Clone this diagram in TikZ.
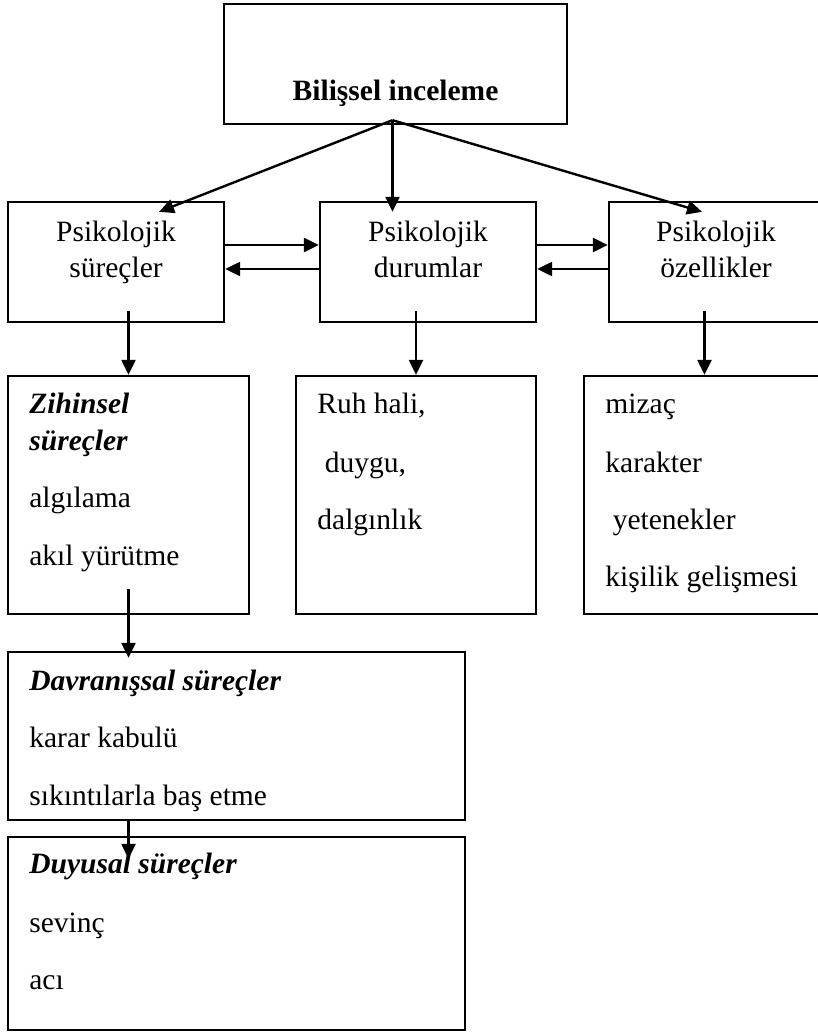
\documentclass[tikz,border=0pt]{standalone}
\usepackage{fontspec}
\setmainfont{Liberation Serif}
\usetikzlibrary{arrows.meta,calc}
\begin{document}
\begin{tikzpicture}[x=0.5pt,y=-0.5pt,
	box/.style={draw, line width=1.2pt, inner sep=0pt},
	arr/.style={line width=1.2pt, -{Triangle[length=7.5pt,width=7pt]}},
	txt/.style={inner sep=0pt, font=\fontsize{14.75}{17}\selectfont},
	hd/.style={txt, font=\fontsize{14.75}{17}\selectfont\bfseries\itshape}]
	\useasboundingbox (0,0) rectangle (818,1032);
	\fill[white] (0,0) rectangle (818,1032);
	
	\node[box, minimum width=171.5pt, minimum height=60pt] (top) at (395.5,64) {};
	\node[box, minimum width=108pt, minimum height=60pt] (ps) at (116,262) {};
	\node[box, minimum width=108pt, minimum height=60pt] (pd) at (428,262) {};
	\node[box, minimum width=108pt, minimum height=60pt] (po) at (717,262) {};
	\node[box, minimum width=120.5pt, minimum height=119pt] (zs) at (128.5,495) {};
	\node[box, minimum width=120pt, minimum height=119pt] (rh) at (416,495) {};
	\node[box, minimum width=120.5pt, minimum height=119pt] (mz) at (704.5,495) {};
	\node[box, minimum width=228.5pt, minimum height=84pt] (dv) at (236.5,736) {};
	\node[box, minimum width=228.5pt, minimum height=96.5pt] (dy) at (236.5,933.5) {};
	
	\node[txt, anchor=base, font=\fontsize{14.75}{17}\selectfont\bfseries] (t0) at (395.5,101) {Bilişsel inceleme};
	\foreach \n/\x/\w in {ps/116/süreçler, pd/428/durumlar, po/716/özellikler}{
		\node[txt, anchor=base] (\n1) at (\x,242) {Psikolojik};
		\node[txt, anchor=base] (\n2) at (\x,277) {\w};
	}
	
	\node[hd, anchor=base west] (zs1) at (29,413) {Zihinsel};
	\node[hd, anchor=base west] (zs2) at (29,450) {süreçler};
	\node[txt, anchor=base west] (zs3) at (29,507) {algılama};
	\node[txt, anchor=base west] (zs4) at (29,565) {akıl yürütme};
	
	\node[txt, anchor=base west] (rh1) at (317,413) {Ruh hali,};
	\node[txt, anchor=base west] (rh2) at (317,472) {\ duygu,};
	\node[txt, anchor=base west] (rh3) at (317,529) {dalgınlık};
	
	\node[txt, anchor=base west] (mz1) at (605,413) {mizaç};
	\node[txt, anchor=base west] (mz2) at (605,472) {karakter};
	\node[txt, anchor=base west] (mz3) at (605,529) {\ yetenekler};
	\node[txt, anchor=base west] (mz4) at (605,586) {kişilik gelişmesi};
	
	\node[hd, anchor=base west] (dv1) at (29,690) {Davranışsal süreçler};
	\node[txt, anchor=base west] (dv2) at (29,747) {karar kabulü};
	\node[txt, anchor=base west] (dv3) at (29,805) {sıkıntılarla baş etme};
	
	\node[hd, anchor=base west] (dy1) at (29,873) {Duyusal süreçler};
	\node[txt, anchor=base west] (dy2) at (29,932) {sevinç};
	\node[txt, anchor=base west] (dy3) at (29,989) {acı};
	
	\draw[arr] ($(top.south)+(-3,-5)$) -- ($(ps.north)+(43,11)$);
	\draw[arr] ($(top.south)+(-3,-5)$) -- ($(top.south |- pd.north)+(-3,11)$);
	\draw[arr] ($(top.south)+(-3,-5)$) -- ($(po.north)+(-15,11)$);
	
	\draw[arr] ($(ps.east)+(0,-17)$) -- ($(pd.west)+(0,-17)$);
	\draw[arr] ($(pd.west)+(0,7)$) -- ($(ps.east)+(0,7)$);
	\draw[arr] ($(pd.east)+(0,-17)$) -- ($(po.west)+(0,-17)$);
	\draw[arr] ($(po.west)+(0,7)$) -- ($(pd.east)+(0,7)$);
	
	\foreach \a/\b in {ps/zs, pd/rh, po/mz}
		\draw[arr] ($(\b.north |- \a.south)+(0,-12)$) -- (\b.north);
	
	\draw[arr] ($(zs.south)+(0,-26)$) -- ($(zs.south |- dv.north)+(0,7)$);
	\draw[arr] (zs.south |- dv.south) -- ($(zs.south |- dy.north)+(0,23)$);
\end{tikzpicture}
\end{document}
